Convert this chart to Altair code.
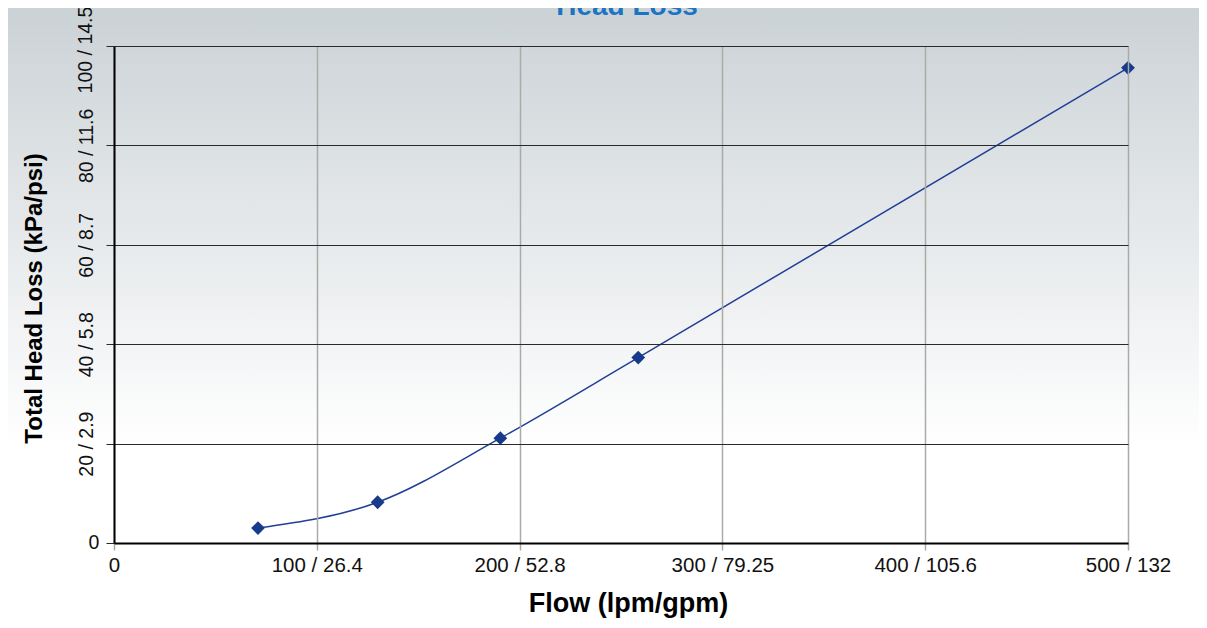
import altair as alt
import pandas as pd

# ---- data ----
flow = [71, 130, 190.5, 258.5, 500]
head_loss = [3.0, 8.2, 21.1, 37.3, 95.6]

x_tick_values = [0, 100, 200, 300, 400, 500]
x_tick_labels = ["0", "100 / 26.4", "200 / 52.8", "300 / 79.25", "400 / 105.6", "500 / 132"]
y_tick_values = [0, 20, 40, 60, 80, 100]
y_tick_labels = ["0", "20 / 2.9", "40 / 5.8", "60 / 8.7", "80 / 11.6", "100 / 14.5"]

title_text = ["Head Loss"]
x_title = "Flow (lpm/gpm)"
y_title = "Total Head Loss (kPa/psi)"

FONT = "Liberation Sans"
W, H = 1014, 497
PAD = {"left": 106, "top": 38, "right": 71, "bottom": 75}


def label_expr(values, labels, skip=()):
    expr = "''"
    for v, l in reversed(list(zip(values, labels))):
        if v in skip:
            continue
        expr = f"datum.value == {v} ? '{l}' : ({expr})"
    return expr


df = pd.DataFrame({"flow": flow, "loss": head_loss})

x_enc = alt.X(
    "flow:Q",
    scale=alt.Scale(domain=[0, 500], nice=False, zero=True),
    axis=alt.Axis(
        values=x_tick_values,
        labelExpr=label_expr(x_tick_values, x_tick_labels),
        grid=True, gridColor="#aaaaa6", gridWidth=1.5,
        tickColor="#aaaaa6", tickWidth=1.5, tickSize=7,
        domainColor="#000000", domainWidth=2,
        labelFont=FONT, labelFontSize=20.5, labelColor="#111111",
        labelPadding=5, labelFlush=False, labelOverlap=False,
        labelBaseline="top",
        title=x_title, titleFont=FONT, titleFontSize=27, titleFontWeight="bold",
        titleColor="#000000", titleX=514, titleY=68,
        titleBaseline="alphabetic", titleAlign="center",
        zindex=1,
    ),
)

y_enc = alt.Y(
    "loss:Q",
    scale=alt.Scale(domain=[0, 100], nice=False, zero=True),
    axis=alt.Axis(
        values=y_tick_values,
        labelExpr=label_expr(y_tick_values, y_tick_labels, skip=(0, 100)),
        grid=True, gridColor="#2a2a2a", gridWidth=1,
        tickColor="#2a2a2a", tickWidth=1, tickSize=8,
        domainColor="#000000", domainWidth=2,
        labelFont=FONT, labelFontSize=19.5, labelColor="#111111",
        labelAngle=270, labelAlign="center", labelBaseline="middle",
        labelPadding=20, labelOverlap=False, labelFlush=False,
        title=y_title, titleFont=FONT, titleFontSize=24, titleFontWeight="bold",
        titleColor="#000000", titleAngle=270, titleX=-80, titleY=252,
        titleBaseline="middle", titleAlign="center",
        zindex=1,
    ),
)

background = alt.Chart(pd.DataFrame({"k": [0]})).mark_rect(
    color=alt.LinearGradient(
        gradient="linear",
        stops=[
            alt.GradientStop(offset=0, color="#cbd2d6"),
            alt.GradientStop(offset=0.72, color="#ffffff"),
            alt.GradientStop(offset=1, color="#ffffff"),
        ],
        x1=0, x2=0, y1=0, y2=1,
    )
).encode(
    x=alt.value(-PAD["left"]), x2=alt.value(W + PAD["right"]),
    y=alt.value(-PAD["top"]), y2=alt.value(H + PAD["bottom"]),
)

line = alt.Chart(df).mark_line(
    interpolate="monotone", color="#203f97", strokeWidth=1.5
).encode(x=x_enc, y=y_enc)

points = alt.Chart(df).mark_point(
    shape="diamond", filled=True, size=190, color="#173a8a", opacity=1
).encode(x=x_enc, y=y_enc)

# "0" at the foot of the y axis is upright in the reference
zero_label = alt.Chart(
    pd.DataFrame({"loss": [y_tick_values[0]], "label": [y_tick_labels[0]]})
).mark_text(
    font=FONT, fontSize=19.5, color="#111111", align="center", baseline="middle"
).encode(y=y_enc, x=alt.value(-20), text="label:N")

# top y label, nudged down slightly so that it stays inside the page
top_label = alt.Chart(
    pd.DataFrame({"loss": [y_tick_values[-1]], "label": [y_tick_labels[-1]]})
).mark_text(
    font=FONT, fontSize=19.5, color="#111111", align="center", baseline="middle",
    angle=270, dx=-4,
).encode(y=y_enc, x=alt.value(-28), text="label:N")

title = alt.Chart(pd.DataFrame({"t": title_text})).mark_text(
    font=FONT, fontSize=28, fontWeight="bold", color="#1b73c4",
    align="center", baseline="alphabetic",
).encode(text="t:N", x=alt.value(513), y=alt.value(-31))

chart = alt.layer(background, line, points, zero_label, top_label, title).properties(
    width=W, height=H,
    autosize=alt.AutoSizeParams(type="none"),
    padding=PAD,
).configure_view(
    stroke="#000000", strokeWidth=2
).configure(background="#ffffff")

chart.save("out.html", embed_options={"renderer": "svg", "actions": False})
